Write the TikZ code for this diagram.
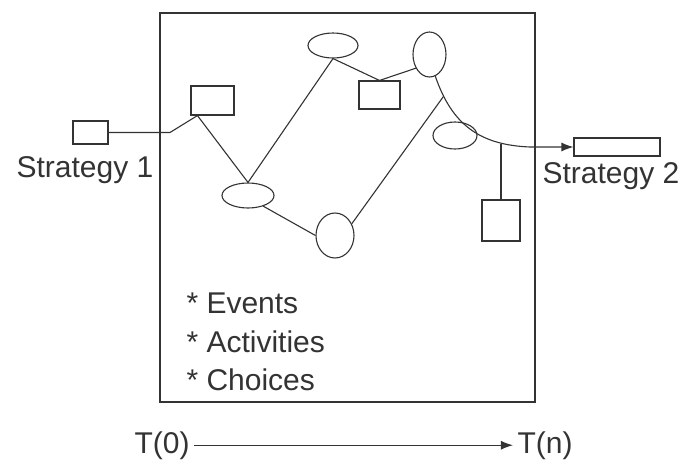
\documentclass[tikz,border=0pt]{standalone}
\usepackage{fontspec}
\setmainfont{Liberation Sans}
\usetikzlibrary{positioning,shapes,arrows.meta}

\begin{document}
\begin{tikzpicture}[x=1pt, y=-1pt, color=black!80, line width=1.1pt,
    box/.style={draw, rectangle, inner sep=0pt},
    oval/.style={draw, ellipse, inner sep=0pt},
    lbl/.style={font=\fontsize{30}{36}\selectfont, inner sep=4pt},
    tip/.style={-{Latex[length=12pt, width=9pt]}}]
    \useasboundingbox (0,0) rectangle (681,464);

    % Frame
    \node[box, minimum width=375, minimum height=389] (frame) at (347.5,207.5) {};

    % Strategy boxes
    \node[box, minimum width=35, minimum height=23] (s1) at (90.5,132.5) {};
    \node[box, minimum width=86, minimum height=18] (s2) at (617,147) {};
    \node[lbl, anchor=base] (l1) at (85,177) {Strategy 1};
    \node[lbl, anchor=base] (l2) at (611,183) {Strategy 2};

    % Activities
    \node[box, minimum width=43, minimum height=29] (rA) at (212.5,100.5) {};
    \node[box, minimum width=41, minimum height=28] (rD) at (379.5,95) {};
    \node[box, minimum width=38, minimum height=41] (rH) at (501,220.5) {};

    % Events
    \node[oval, minimum width=52, minimum height=25] (eB) at (248,195.5) {};
    \node[oval, minimum width=50, minimum height=25] (eC) at (333,45.5) {};
    \node[oval, minimum width=33, minimum height=45] (eE) at (429.5,54.5) {};
    \node[oval, minimum width=38, minimum height=45] (eF) at (335,235.5) {};
    \node[oval, minimum width=44, minimum height=27] (eG) at (455,135.5) {};

    % Path through the network
    \coordinate (k1) at (170,132.5);
    \coordinate (k2) at ([xshift=7pt]rA.south west);
    \draw (s1.east) -- (k1) -- (k2) -- (eB.north) -- (eC.south) -- (rD.north) -- (eE.225);
    \draw (eB.-35) -- (eF.west);
    \draw[tip] (eE.-75) .. controls (452,125) and (480,145) .. (530,147)
        coordinate[pos=0.15] (j1) coordinate[pos=0.8] (j2) -- (s2.west);
    \draw (eF.35) -- (j1);
    \draw (rH.north) -- (rH.north |- j2);

    % Legend
    \foreach \t [count=\i] in {Events, Activities, Choices}
        \node[lbl, inner sep=0pt, anchor=base west] (item\i) at (186,275+38.5*\i) {* \t};

    % Time axis
    \node[lbl, anchor=base] (t0) at (162,453) {T(0)};
    \node[lbl, anchor=base] (tn) at (545,453) {T(n)};
    \draw[tip] (t0) -- (tn);
\end{tikzpicture}
\end{document}
